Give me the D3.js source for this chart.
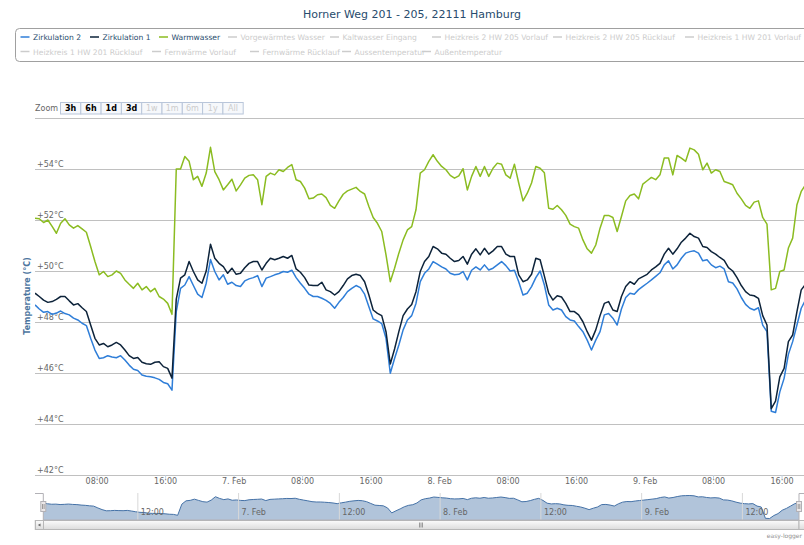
<!DOCTYPE html>
<html>
<head>
<meta charset="utf-8">
<script src="https://cdn.jsdelivr.net/npm/d3@7"></script>
<style>
  body { margin: 0; background: #fff; }
  svg { display: block; font-family: "DejaVu Sans", sans-serif; }
</style>
</head>
<body>
<script>
var chartTitle = 'Horner Weg 201 - 205, 22111 Hamburg';
var yTitle = 'Temperature (°C)';

// one reading every 30 minutes, first one on 6 Feb 00:48
var startTime = Date.UTC(2014, 1, 6, 0, 48);
var stepMinutes = 30;

var zirkulation2 = [
  48.67, 48.51, 48.38, 48.41, 48.3, 48.35, 48.43, 48.33, 48.28, 48.15,
  48.08, 47.95, 47.86, 47.36, 46.9, 46.57, 46.6, 46.68, 46.63, 46.6,
  46.68, 46.51, 46.31, 46.15, 46.1, 45.92, 45.87, 45.85, 45.81, 45.75,
  45.63, 45.58, 45.33, 48.41, 49.32, 49.45, 49.78, 49.43, 49.09, 48.96,
  49.52, 50.45, 49.98, 49.65, 49.85, 49.48, 49.56, 49.43, 49.39, 49.61,
  49.69, 49.74, 49.82, 49.39, 49.72, 49.78, 49.85, 49.9, 49.98, 49.95,
  50.03, 49.74, 49.52, 49.32, 49.09, 49.0, 49.0, 48.93, 48.85, 48.73,
  48.54, 48.77, 48.96, 49.19, 49.32, 49.43, 49.35, 49.09, 48.6, 48.12,
  48.04, 47.94, 47.36, 45.99, 46.57, 47.1, 47.69, 48.08, 48.25, 48.73,
  49.58, 49.91, 50.08, 50.37, 50.27, 50.16, 50.08, 49.91, 49.85, 49.87,
  49.98, 49.65, 50.03, 50.16, 50.04, 50.24, 50.04, 50.11, 50.24, 50.37,
  50.21, 50.0, 50.03, 49.58, 49.06, 49.13, 49.39, 49.74, 50.0, 49.45,
  48.67, 48.47, 48.54, 48.47, 48.21, 48.08, 48.04, 47.82, 47.62, 47.29,
  46.9, 47.29, 47.62, 48.28, 48.33, 48.15, 47.88, 48.51, 48.96, 49.13,
  49.09, 49.27, 49.4, 49.52, 49.65, 49.79, 49.93, 50.24, 50.4, 50.08,
  50.24, 50.5, 50.7, 50.76, 50.79, 50.7, 50.4, 50.44, 50.24, 50.13,
  50.19, 50.08, 49.58, 49.53, 49.3, 48.96, 48.69, 48.54, 48.47, 48.56,
  47.88, 47.62, 44.5, 44.45, 45.26, 45.79, 46.73, 47.23, 47.88, 48.54,
  48.86
];

var zirkulation1 = [
  49.13, 49.0, 48.86, 48.77, 48.8, 48.89, 49.0, 49.0, 48.83, 48.67,
  48.72, 48.56, 48.41, 47.88, 47.36, 47.1, 47.16, 47.03, 47.1, 47.2,
  47.1, 46.9, 46.68, 46.57, 46.61, 46.42, 46.36, 46.34, 46.42, 46.44,
  46.25, 46.18, 45.8, 48.9, 49.72, 49.85, 50.37, 49.98, 49.65, 49.52,
  50.0, 51.05, 50.5, 50.3, 50.17, 49.91, 50.11, 49.87, 49.91, 50.13,
  50.3, 50.37, 50.37, 50.04, 50.3, 50.5, 50.44, 50.5, 50.57, 50.5,
  50.61, 50.08, 49.95, 49.74, 49.45, 49.43, 49.43, 49.56, 49.26, 49.19,
  49.06, 49.19, 49.43, 49.69, 49.82, 49.87, 49.82, 49.58, 49.06, 48.47,
  48.34, 48.25, 47.62, 46.35, 46.94, 47.62, 48.25, 48.51, 48.69, 49.19,
  49.98, 50.37, 50.57, 50.96, 50.87, 50.7, 50.66, 50.5, 50.37, 50.41,
  50.57, 50.27, 50.66, 50.87, 50.63, 50.89, 50.66, 50.79, 50.96, 50.96,
  50.66, 50.57, 50.57, 49.85, 49.58, 49.65, 49.87, 50.5, 50.44, 49.8,
  49.13, 48.86, 49.03, 48.98, 48.73, 48.41, 48.41, 48.28, 48.01, 47.62,
  47.29, 47.69, 48.25, 48.73, 48.8, 48.47, 48.41, 49.0, 49.39, 49.58,
  49.48, 49.69, 49.78, 49.87, 50.04, 50.16, 50.3, 50.66, 50.89, 50.66,
  50.87, 51.13, 51.29, 51.48, 51.35, 51.29, 50.96, 50.92, 50.76, 50.66,
  50.53, 50.42, 50.13, 50.0, 49.74, 49.43, 49.19, 49.06, 49.03, 48.93,
  48.25, 47.88, 44.6, 44.9, 45.85, 46.18, 47.23, 47.49, 48.41, 49.26,
  49.48
];

var warmwasser = [
  52.07, 52.05, 51.9, 52.0, 51.75, 51.48, 51.87, 52.05, 51.81, 51.68,
  51.78, 51.65, 51.52, 50.96, 50.37, 49.85, 49.98, 49.78, 49.85, 50.0,
  49.91, 49.65, 49.48, 49.32, 49.52, 49.26, 49.39, 49.19, 49.32, 49.0,
  48.9, 48.73, 48.3, 54.0, 54.0, 54.49, 54.3, 53.58, 53.71, 53.32,
  53.84, 54.85, 53.9, 53.58, 53.18, 53.38, 53.6, 53.14, 53.38, 53.64,
  53.75, 53.77, 53.58, 52.6, 53.71, 53.84, 53.77, 53.97, 53.9, 54.06,
  54.17, 53.58, 53.51, 53.25, 52.83, 52.86, 52.99, 53.02, 52.88, 52.57,
  52.46, 52.75, 53.01, 53.14, 53.21, 53.28, 53.12, 53.02, 52.53, 52.1,
  51.87, 51.55, 50.63, 49.58, 50.11, 50.7, 51.22, 51.61, 51.74, 52.4,
  53.84, 53.97, 54.3, 54.56, 54.3, 54.1, 53.97, 53.75, 53.64, 53.73,
  54.01, 53.18, 53.71, 54.1, 53.71, 54.1, 53.71, 54.03, 54.23, 54.19,
  53.77, 53.64, 54.19, 53.45, 52.75, 53.05, 53.45, 54.1, 54.03, 53.85,
  52.46, 52.42, 52.57, 52.4, 52.18, 51.84, 51.74, 51.68, 51.22, 50.87,
  50.7, 51.02, 51.68, 52.18, 52.18, 52.1, 51.55, 52.14, 52.75, 52.96,
  53.02, 52.83, 53.41, 53.54, 53.67, 53.58, 53.77, 54.43, 54.43, 53.77,
  54.53, 54.43, 54.3, 54.82, 54.75, 54.58, 53.97, 54.23, 53.84, 53.97,
  53.9, 53.51, 53.45, 53.38, 53.05, 52.83, 52.57, 52.46, 52.7, 52.75,
  52.1, 51.84, 49.26, 49.32, 49.98, 50.04, 50.9, 51.29, 52.6, 53.12,
  53.38
];

var seriesNames = ['Zirkulation 2', 'Zirkulation 1', 'Warmwasser'];
var seriesColors = ['#2f7ed8', '#0d233a', '#8bbc21'];
var hiddenNames = ['Vorgewärmtes Wasser', 'Kaltwasser Eingang', 'Heizkreis 2 HW 205 Vorlauf',
  'Heizkreis 2 HW 205 Rücklauf', 'Heizkreis 1 HW 201 Vorlauf', 'Heizkreis 1 HW 201 Rücklauf',
  'Fernwärme Vorlauf', 'Fernwärme Rücklauf', 'Aussentemperatur', 'Außentemperatur'];

var yTicks = [42, 44, 46, 48, 50, 52, 54, 56];
var zoomButtons = ['3h', '6h', '1d', '3d', '1w', '1m', '6m', '1y', 'All'];
var zoomEnabled = [true, true, true, true, false, false, false, false, false];

/* layout */
var width = 804, height = 545;
var plotLeft = 35, plotTop = 118, plotBottom = 475, plotRight = 808.5;
var navTop = 493, navBottom = 520, navLeft = 43.3, navRight = 799;
var hour = 3600 * 1000;

var times = zirkulation2.map((_, i) => new Date(startTime + i * stepMinutes * 60000));
var series = [zirkulation2, zirkulation1, warmwasser];

var svg = d3.select('body').append('svg')
    .attr('width', width)
    .attr('height', height);

svg.append('rect').attr('width', width).attr('height', height).attr('fill', '#fff');

/* title */
svg.append('text')
    .attr('x', 412).attr('y', 18)
    .attr('text-anchor', 'middle')
    .attr('font-size', 11)
    .attr('fill', '#274b6d')
    .text(chartTitle);

/* legend */
svg.append('rect')
    .attr('x', 15.5).attr('y', 28.5)
    .attr('width', 812).attr('height', 33)
    .attr('rx', 4)
    .attr('fill', 'none')
    .attr('stroke', '#a0a0a0');

var legendItems = seriesNames.map((n, i) => ({name: n, color: seriesColors[i], on: true}))
    .concat(hiddenNames.map(n => ({name: n, color: '#ccc', on: false})));
var legendX = [20.5, 90, 159, 228, 330, 432, 553, 685, 20.5, 152, 250, 342, 422];
var legendRowY = [37, 51.5];

var leg = svg.append('g').selectAll('g').data(legendItems).enter().append('g')
    .attr('transform', (d, i) => 'translate(' + legendX[i] + ',' + legendRowY[i < 8 ? 0 : 1] + ')');
leg.append('line')
    .attr('x1', 0).attr('x2', 9)
    .attr('stroke', d => d.color)
    .attr('stroke-width', 1.5);
leg.append('text')
    .attr('x', 12.5).attr('y', 3)
    .attr('font-size', 7.6)
    .attr('fill', d => d.on ? '#274b6d' : '#ccc')
    .text(d => d.name);

/* range selector */
svg.append('text')
    .attr('x', 35).attr('y', 111)
    .attr('font-size', 8)
    .attr('fill', '#666')
    .text('Zoom');
var btn = svg.append('g').selectAll('g').data(zoomButtons).enter().append('g')
    .attr('transform', (d, i) => 'translate(' + (60.5 + i * 20.3) + ',102.5)');
btn.append('rect')
    .attr('width', 20.3).attr('height', 11.5)
    .attr('fill', '#f6f8fb')
    .attr('stroke', '#b9c6da');
btn.append('text')
    .attr('x', 10.15).attr('y', 8.8)
    .attr('text-anchor', 'middle')
    .attr('font-size', 8)
    .attr('font-weight', (d, i) => zoomEnabled[i] ? 'bold' : 'normal')
    .attr('fill', (d, i) => zoomEnabled[i] ? '#000' : '#ccc')
    .text(d => d);

/* scales */
var x = d3.scaleUtc()
    .domain([new Date(startTime), new Date(startTime + 90.35 * hour)])
    .range([plotLeft, plotRight]);
var y = d3.scaleLinear()
    .domain([42, 56])
    .range([plotBottom, plotTop]);

/* y grid + labels */
var yAxis = svg.append('g')
    .attr('transform', 'translate(' + plotLeft + ',0)')
    .call(d3.axisRight(y).tickValues(yTicks).tickSize(plotRight - plotLeft)
        .tickFormat(d => '+' + d + '°C'));
yAxis.select('.domain').remove();
yAxis.selectAll('line').attr('stroke', '#c0c0c0');
yAxis.selectAll('text')
    .attr('x', 2).attr('dy', -2.5)
    .attr('font-size', 8)
    .attr('font-family', '"DejaVu Sans", sans-serif')
    .attr('fill', '#666')
    .attr('opacity', d => d === 56 ? 0 : 1);

svg.append('text')
    .attr('transform', 'translate(29.5,296) rotate(-90)')
    .attr('text-anchor', 'middle')
    .attr('font-size', 8)
    .attr('font-weight', 'bold')
    .attr('fill', '#4d759e')
    .text(yTitle);

/* x axis */
var fmt = d => d.getUTCHours() === 0 ? d3.utcFormat('%-d. %b')(d) : d3.utcFormat('%H:%M')(d);
var xAxis = svg.append('g')
    .attr('transform', 'translate(0,' + plotBottom + ')')
    .call(d3.axisBottom(x).ticks(d3.utcHour.every(8)).tickSize(4).tickFormat(fmt));
xAxis.select('.domain').remove();
xAxis.selectAll('line').attr('stroke', '#c0d0e0');
xAxis.selectAll('text')
    .attr('y', 9).attr('dy', 0)
    .attr('font-size', 8)
    .attr('font-family', '"DejaVu Sans", sans-serif')
    .attr('fill', '#666');

/* series */
svg.append('clipPath').attr('id', 'plotclip')
    .append('rect')
    .attr('x', plotLeft).attr('y', plotTop)
    .attr('width', plotRight - plotLeft).attr('height', plotBottom - plotTop);

var line = d3.line()
    .x((d, i) => x(times[i]))
    .y(d => y(d));

svg.append('g').attr('clip-path', 'url(#plotclip)')
    .selectAll('path').data(series).enter().append('path')
    .attr('d', line)
    .attr('fill', 'none')
    .attr('stroke', (d, i) => seriesColors[i])
    .attr('stroke-width', 1.5)
    .attr('stroke-linejoin', 'round');

/* navigator */
var navX = d3.scaleUtc()
    .domain(d3.extent(times))
    .range([navLeft, navRight]);
var navY = d3.scaleLinear()
    .domain(d3.extent(zirkulation2))
    .range([518.5, 495.5]);

var navAxis = svg.append('g')
    .attr('transform', 'translate(0,' + navTop + ')')
    .call(d3.axisBottom(navX).ticks(d3.utcHour.every(12)).tickSize(navBottom - navTop).tickFormat(fmt));
navAxis.select('.domain').remove();
navAxis.selectAll('line').attr('stroke', '#d8d8d8');

svg.append('path')
    .datum(zirkulation2)
    .attr('d', d3.area()
        .x((d, i) => navX(times[i]))
        .y0(navBottom)
        .y1(d => navY(d)))
    .attr('fill', '#4572a7')
    .attr('fill-opacity', 0.42);
svg.append('path')
    .datum(zirkulation2)
    .attr('d', d3.line()
        .x((d, i) => navX(times[i]))
        .y(d => navY(d)))
    .attr('fill', 'none')
    .attr('stroke', '#4572a7')
    .attr('stroke-width', 1);

navAxis.selectAll('text')
    .attr('text-anchor', 'start')
    .attr('x', 3).attr('y', 22).attr('dy', 0)
    .attr('font-size', 8)
    .attr('font-family', '"DejaVu Sans", sans-serif')
    .attr('fill', '#666');
navAxis.raise();

/* scrollbar */
var sb = svg.append('g');
sb.append('rect').attr('x', plotLeft).attr('y', 520.5).attr('width', plotRight - plotLeft).attr('height', 9)
    .attr('fill', '#eee').attr('stroke', '#ddd');
var grad = svg.append('defs').append('linearGradient').attr('id', 'sbg')
    .attr('x1', 0).attr('y1', 0).attr('x2', 0).attr('y2', 1);
grad.append('stop').attr('offset', 0).attr('stop-color', '#fbfbfb');
grad.append('stop').attr('offset', 1).attr('stop-color', '#dcdcdc');
sb.append('rect').attr('x', navLeft).attr('y', 520.5).attr('width', navRight - navLeft).attr('height', 9)
    .attr('fill', 'url(#sbg)').attr('stroke', '#b8b8b8');
[-1.5, 0, 1.5].forEach(function(o) {
    sb.append('line').attr('x1', 421 + o).attr('x2', 421 + o).attr('y1', 522.5).attr('y2', 527.5)
        .attr('stroke', '#777').attr('stroke-width', 0.7);
});
sb.append('rect').attr('x', plotLeft + 0.5).attr('y', 520.5).attr('width', 8).attr('height', 9)
    .attr('fill', 'url(#sbg)').attr('stroke', '#b8b8b8');
sb.append('path').attr('d', 'M40.5,523.5 L37.8,525 L40.5,526.5 Z').attr('fill', '#666');
sb.append('rect').attr('x', navRight).attr('y', 520.5).attr('width', 8).attr('height', 9)
    .attr('fill', 'url(#sbg)').attr('stroke', '#b8b8b8');

/* navigator outline and handles */
svg.append('path')
    .attr('d', 'M' + plotLeft + ',' + (navTop + 0.5) + 'H' + navLeft + 'V' + navBottom +
        'H' + navRight + 'V' + (navTop + 0.5) + 'H' + plotRight)
    .attr('fill', 'none')
    .attr('stroke', '#b2b1b6');
[navLeft, navRight].forEach(function(hx) {
    var h = svg.append('g').attr('transform', 'translate(' + hx + ',501.5)');
    h.append('rect').attr('x', -2.5).attr('y', 0).attr('width', 5).attr('height', 10)
        .attr('fill', '#ebe7e8').attr('stroke', '#b2b1b6');
    [-0.8, 0.8].forEach(function(o) {
        h.append('line').attr('x1', o).attr('x2', o).attr('y1', 2.5).attr('y2', 7.5)
            .attr('stroke', '#666').attr('stroke-width', 0.6);
    });
});

/* credits */
svg.append('text')
    .attr('x', 802).attr('y', 538)
    .attr('text-anchor', 'end')
    .attr('font-size', 6)
    .attr('fill', '#909090')
    .text('easy-logger');
</script>
</body>
</html>
